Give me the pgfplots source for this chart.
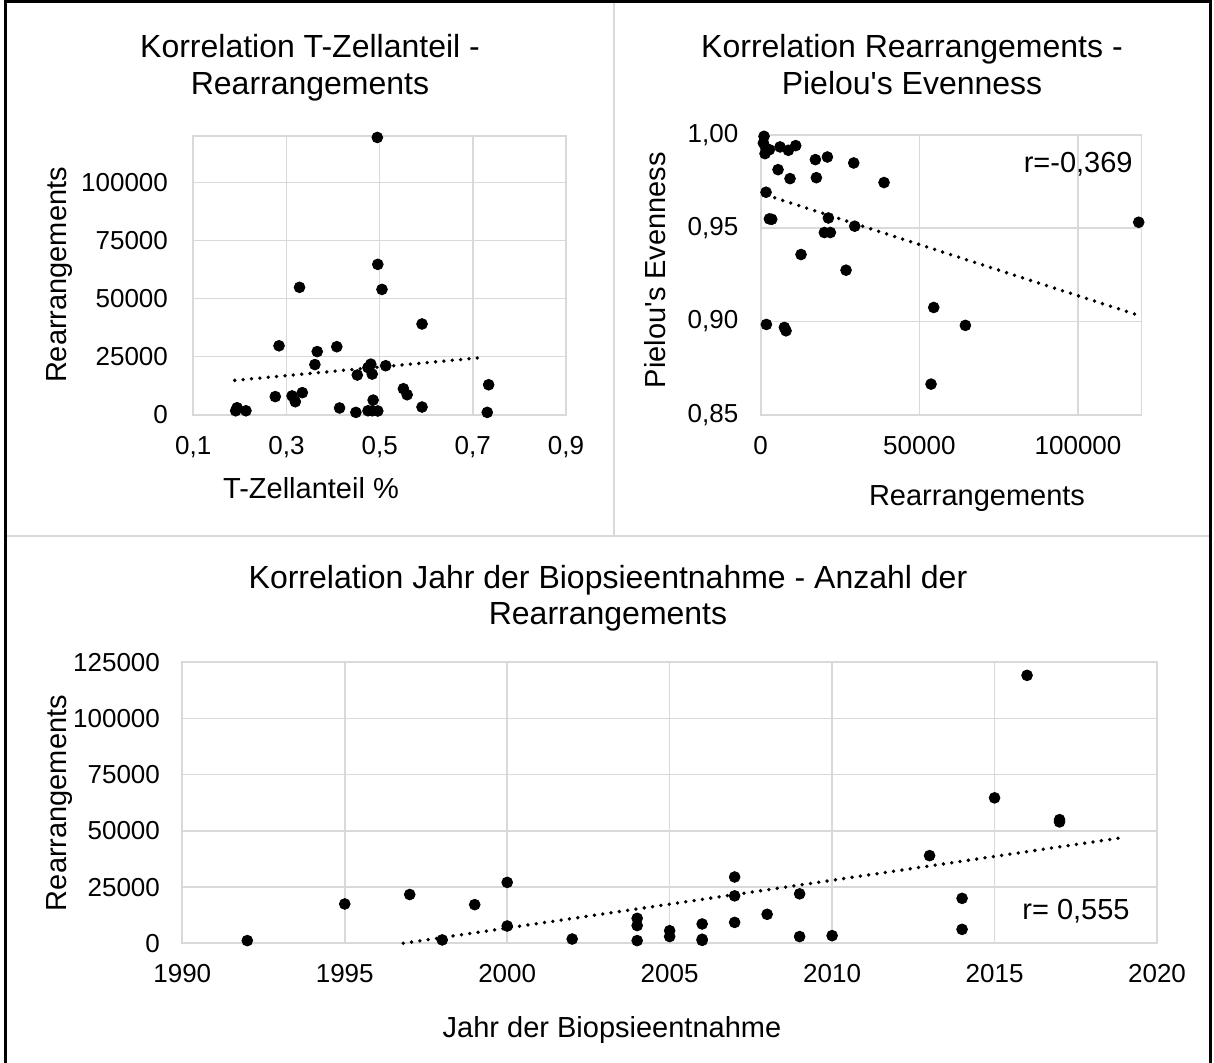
\documentclass[border=0pt]{standalone}
\usepackage{fontspec}
\setmainfont{Liberation Sans}[Ligatures=TeXOff]
\usepackage{pgfplots}
\pgfplotsset{compat=1.18}
\definecolor{gridgray}{HTML}{D9D9D9}
\pgfplotsset{
  myax/.style={
    scale only axis,
    anchor=south west,
    axis line style={gridgray, line width=0.9pt},
    grid=major,
    major grid style={gridgray, line width=0.75pt},
    major tick length=0pt,
    tick style={draw=none},
    ticklabel style={font=\fontsize{13}{15}\selectfont, inner sep=0pt},
    yticklabel style={anchor=east, xshift=-11pt},
    xticklabel style={anchor=north, yshift=-10.5pt},
    scaled ticks=false,
    clip=false,
  },
  pts/.style={only marks, mark=*, mark size=2.7pt, black, mark options={fill=black, draw=black}},
  trend/.style={black, line width=1.9pt, dash pattern=on 0pt off 4.2pt, line cap=round},
}
\newcommand{\tfont}{\fontsize{14.5}{17}\selectfont}
\newcommand{\hfont}{\fontsize{16}{19}\selectfont}
\begin{document}
\begin{tikzpicture}[x=0.5pt,y=-0.5pt]
\useasboundingbox (0,0) rectangle (1214,1063);
% frame and dividers
\draw[gridgray, line width=0.75pt] (614,2) -- (614,536);
\draw[gridgray, line width=0.75pt] (6,536) -- (1210,536);
\draw[black, line width=1.4pt] (5.5,1.5) rectangle (1210.5,1100);

% ---------- top-left ----------
\begin{axis}[myax,
  at={(96.65pt,-207.35pt)},
  width=186.35pt, height=139.2pt,
  xmin=0.1, xmax=0.9, ymin=0, ymax=120000,
  xtick={0.1,0.3,0.5,0.7,0.9},
  xticklabels={{0,1},{0,3},{0,5},{0,7},{0,9}},
  ytick={0,25000,50000,75000,100000},
  yticklabels={0,25000,50000,75000,100000},
  yticklabel style={xshift=-1.5pt},
]
\addplot[pts] coordinates {
(0.495,119500) (0.496,64800) (0.505,54000) (0.328,54900) (0.591,39100)
(0.284,29700) (0.408,29300) (0.366,27200) (0.361,21600) (0.481,21800)
(0.475,20300) (0.513,21100) (0.452,17100) (0.484,17500) (0.551,11200)
(0.559,8600) (0.734,12900) (0.276,7800) (0.312,8100) (0.334,9500)
(0.319,5600) (0.486,6300) (0.414,2900) (0.591,3300) (0.449,1000)
(0.475,1700) (0.484,1700) (0.496,1600) (0.731,1000) (0.194,3000)
(0.191,1700) (0.213,1700)
};
\addplot[trend] coordinates {(0.189,14800) (0.724,24700)};
\end{axis}

% ---------- top-right ----------
\begin{axis}[myax,
  at={(380.35pt,-207.35pt)},
  width=190.4pt, height=139.85pt,
  xmin=0, xmax=120000, ymin=0.85, ymax=1.0,
  xtick={0,50000,100000},
  xticklabels={0,50000,100000},
  ytick={0.85,0.9,0.95,1.0},
  yticklabels={{0,85},{0,90},{0,95},{1,00}},
]
\addplot[pts] coordinates {
(1050,0.9993) (840,0.9957) (1680,0.9927) (2730,0.9921) (1365,0.9900)
(6090,0.9936) (8720,0.9918) (11030,0.9943) (17230,0.9868) (21010,0.9882)
(29310,0.9850) (5460,0.9814) (9240,0.9766) (17540,0.9771) (38870,0.9745)
(1680,0.9693) (2730,0.9550) (3470,0.9548) (21320,0.9555) (29620,0.9511)
(20060,0.9477) (21950,0.9477) (119120,0.9532) (12710,0.9359) (26890,0.9275)
(54520,0.9075) (1790,0.8984) (7460,0.8968) (7980,0.8950) (64500,0.8979)
(53680,0.8664)
};
\addplot[trend] coordinates {(1900,0.9677) (118000,0.9039)};
\end{axis}

% ---------- bottom ----------
\begin{axis}[myax,
  at={(91.15pt,-471.65pt)},
  width=487.35pt, height=140.5pt,
  xmin=1990, xmax=2020, ymin=0, ymax=125000,
  xtick={1990,1995,2000,2005,2010,2015,2020},
  xticklabels={1990,1995,2000,2005,2010,2015,2020},
  ytick={0,25000,50000,75000,100000,125000},
  yticklabels={0,25000,50000,75000,100000,125000},
]
\addplot[pts] coordinates {
(1992,1200) (1995,17500) (1997,21700) (1999,17200) (2000,27100)
(2000,7700) (1998,1500) (2002,1900) (2004,1200) (2004,11100)
(2004,7900) (2005,5600) (2005,3000) (2006,8600) (2006,1800)
(2006,1300) (2007,29500) (2007,21100) (2007,9300) (2008,12900)
(2009,22000) (2009,3000) (2010,3400) (2013,39000) (2016,119200)
(2015,64700) (2017,54000) (2017,55000) (2014,20000) (2014,6200)
};
\addplot[trend] coordinates {(1996.8,0) (2019,47150)};
\end{axis}

% ---------- texts ----------
\node[anchor=base, font=\hfont] at (310,58) {Korrelation T-Zellanteil -};
\node[anchor=base, font=\hfont] at (310,95) {Rearrangements};
\node[anchor=base, font=\hfont] at (912,58) {Korrelation Rearrangements -};
\node[anchor=base, font=\hfont] at (912,95) {Pielou's Evenness};
\node[anchor=base, font=\hfont] at (608,588) {Korrelation Jahr der Biopsieentnahme - Anzahl der};
\node[anchor=base, font=\hfont] at (608,624) {Rearrangements};

\node[anchor=base, font=\tfont] at (311,498) {T-Zellanteil \%};
\node[anchor=base, font=\tfont] at (977,505) {Rearrangements};
\node[anchor=base, font=\tfont] at (612,1037) {Jahr der Biopsieentnahme};

\node[rotate=90, font=\tfont] at (60,275) {Rearrangements};
\node[rotate=90, font=\tfont] at (655,270) {Pielou's Evenness};
\node[rotate=90, font=\tfont] at (60,803) {Rearrangements};

\node[anchor=base east, font=\tfont, inner sep=0pt] at (1133,173) {r=-0,369};
\node[anchor=base east, font=\tfont, inner sep=0pt] at (1130,919) {r= 0,555};
\end{tikzpicture}
\end{document}
